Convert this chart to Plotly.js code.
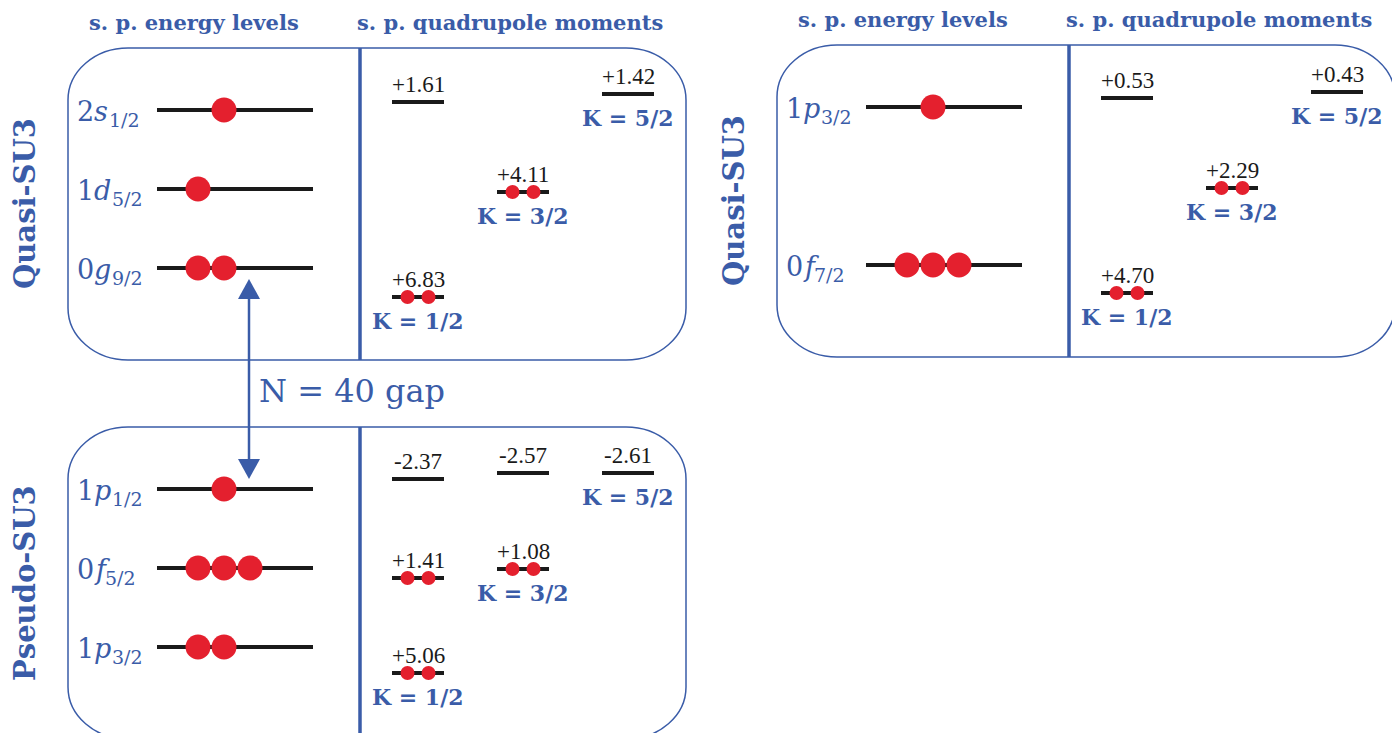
<!DOCTYPE html>
<html><head><meta charset="utf-8">
<script src="https://cdn.plot.ly/plotly-3.0.1.min.js"></script>
<style>html,body{margin:0;padding:0;background:#fff;overflow:hidden}#chart{width:1392px;height:733px}</style>
</head><body><div id="chart"></div>
<script>
// ================= DATA =================
const panelNames = ['Quasi-SU3', 'Pseudo-SU3', 'Quasi-SU3'];
const headerLabels = ['s. p. energy levels', 's. p. quadrupole moments'];
const kLabels = ['1/2', '3/2', '5/2'];
const gapLabel = 'N = 40 gap';

// Panel A : Quasi-SU3 (sdg)
const levelsA = ['2s_{1/2}', '1d_{5/2}', '0g_{9/2}'];
const occA = [1, 1, 2];
const qValuesA = [1.61, 1.42, 4.11, 6.83];
const qKA = ['1/2', '5/2', '3/2', '1/2'];
const qOccA = [0, 0, 2, 2];

// Panel B : Pseudo-SU3 (fp)
const levelsB = ['1p_{1/2}', '0f_{5/2}', '1p_{3/2}'];
const occB = [1, 3, 2];
const qValuesB = [-2.37, -2.57, -2.61, 1.41, 1.08, 5.06];
const qKB = ['1/2', '3/2', '5/2', '1/2', '3/2', '1/2'];
const qOccB = [0, 0, 0, 2, 2, 2];

// Panel C : Quasi-SU3 (pf)
const levelsC = ['1p_{3/2}', '0f_{7/2}'];
const occC = [1, 3];
const qValuesC = [0.53, 0.43, 2.29, 4.70];
const qKC = ['1/2', '5/2', '3/2', '1/2'];
const qOccC = [0, 0, 2, 2];

// ================= LAYOUT GEOMETRY (positions / styles) =================
const W = 1392, H = 733;
const BLUE = '#3a5ca8', RED = '#e4202e', BLACK = '#1a1a1a';
const boxX0 = [68, 68, 777], boxY0 = [48, 427, 45];
const BOX_W = 618, BOX_H = 312, RX = 60, RY = 52;
const DIV_DX = 292;
const LEV_X0 = 89, LEV_X1 = 245, LEV_DY0 = 62, LEV_STEP = 79;
const SLOT_X0 = 130, SLOT_STEP = 26;
const LABEL_DX = 10, LAB_SIZE = 27, SUB_SIZE = 19, SUB_DY = 10;
const Q_COL_DX = [350, 455, 560], Q_HALF = 26, Q_DOT = 10.5;
const levelRow = [[0, 1, 2], [0, 1, 2], [0, 2]];
const firstSlot = [[1, 0, 0], [1, 0, 0], [1, 0]];
const qDy = [[54, 46, 144, 249], [52, 46, 46, 151, 142, 246], [53, 47, 143, 248]];
const headerDx = [126, 442], HEADER_DY = -26;
const showHeader = [true, false, true];
const ARROW_DX = 181;
const SERIF = 'DejaVu Serif';

const panels = [
  {levels: levelsA, occ: occA, q: qValuesA, k: qKA, qocc: qOccA},
  {levels: levelsB, occ: occB, q: qValuesB, k: qKB, qocc: qOccB},
  {levels: levelsC, occ: occC, q: qValuesC, k: qKC, qocc: qOccC}
];

const ctx = document.createElement('canvas').getContext('2d');
function textW(t, size, style) {
  ctx.font = (style || 'normal') + ' ' + size + 'px "' + SERIF + '"';
  return ctx.measureText(t).width;
}
function fmtQ(v) { return (v >= 0 ? '+' : '-') + Math.abs(v).toFixed(2); }
function parseLevel(s) {
  const m = s.match(/^(\d)([a-z])_\{(.+)\}$/);
  return {n: m[1], l: m[2], j: m[3]};
}
function roundBox(x0, y0, x1, y1, rx, ry) {
  const k = 0.5523;
  return `M ${x0 + rx},${y0} L ${x1 - rx},${y0} C ${x1 - rx + k * rx},${y0} ${x1},${y0 + ry - k * ry} ${x1},${y0 + ry}` +
    ` L ${x1},${y1 - ry} C ${x1},${y1 - ry + k * ry} ${x1 - rx + k * rx},${y1} ${x1 - rx},${y1}` +
    ` L ${x0 + rx},${y1} C ${x0 + rx - k * rx},${y1} ${x0},${y1 - ry + k * ry} ${x0},${y1 - ry}` +
    ` L ${x0},${y0 + ry} C ${x0},${y0 + ry - k * ry} ${x0 + rx - k * rx},${y0} ${x0 + rx},${y0} Z`;
}

const shapes = [], annotations = [];
const levX = [], levY = [], qlX = [], qlY = [];
const eDotX = [], eDotY = [], qDotX = [], qDotY = [];
const levelYs = [];

panels.forEach((p, i) => {
  const x0 = boxX0[i], y0 = boxY0[i];
  shapes.push({type: 'path', xref: 'x', yref: 'y', path: roundBox(x0, y0, x0 + BOX_W, y0 + BOX_H, RX, RY),
    line: {color: BLUE, width: 1.5}, fillcolor: 'rgba(0,0,0,0)', layer: 'below'});
  shapes.push({type: 'line', xref: 'x', yref: 'y', x0: x0 + DIV_DX, x1: x0 + DIV_DX, y0: y0, y1: y0 + BOX_H,
    line: {color: BLUE, width: 3.5}, layer: 'below'});
  if (showHeader[i]) {
    headerLabels.forEach((h, j) => annotations.push({x: x0 + headerDx[j], y: y0 + HEADER_DY, text: h,
      showarrow: false, xanchor: 'center', yanchor: 'middle',
      font: {family: SERIF, size: 21, color: BLUE, weight: 'bold'}}));
  }
  annotations.push({x: x0 - 43, y: y0 + BOX_H / 2, text: panelNames[i], textangle: -90,
    showarrow: false, xanchor: 'center', yanchor: 'middle',
    font: {family: SERIF, size: 29, color: BLUE, weight: 'bold'}});
  // energy levels
  const ys = [];
  p.levels.forEach((lab, r) => {
    const y = y0 + LEV_DY0 + LEV_STEP * levelRow[i][r];
    ys.push(y);
    levX.push(x0 + LEV_X0, x0 + LEV_X1, null); levY.push(y, y, null);
    for (let d = 0; d < p.occ[r]; d++) {
      eDotX.push(x0 + SLOT_X0 + SLOT_STEP * (firstSlot[i][r] + d)); eDotY.push(y);
    }
    const L = parseLevel(lab);
    const xa = x0 + LABEL_DX;
    const xb = xa + textW(L.n, LAB_SIZE);
    const xc = xb + textW(L.l, LAB_SIZE, 'italic') + 1;
    annotations.push({x: xa, y: y + 1, text: L.n, showarrow: false, xanchor: 'left', yanchor: 'middle',
      xshift: -3, font: {family: SERIF, size: LAB_SIZE, color: BLUE}});
    annotations.push({x: xb, y: y + 1, text: L.l, showarrow: false, xanchor: 'left', yanchor: 'middle',
      xshift: -3, font: {family: SERIF, size: LAB_SIZE, color: BLUE, style: 'italic'}});
    annotations.push({x: xc, y: y + SUB_DY, text: L.j, showarrow: false, xanchor: 'left', yanchor: 'middle',
      xshift: -3, font: {family: SERIF, size: SUB_SIZE, color: BLUE}});
  });
  levelYs.push(ys);
  // quadrupole moments
  const lowest = {};
  p.q.forEach((v, n) => {
    const col = kLabels.indexOf(p.k[n]);
    const cx = x0 + Q_COL_DX[col], y = y0 + qDy[i][n];
    qlX.push(cx - Q_HALF, cx + Q_HALF, null); qlY.push(y, y, null);
    if (p.qocc[n] === 2) { qDotX.push(cx - Q_DOT, cx + Q_DOT); qDotY.push(y, y); }
    annotations.push({x: cx, y: y - 18, text: fmtQ(v), showarrow: false, xanchor: 'center', yanchor: 'middle',
      font: {family: 'Liberation Serif', size: 23, color: BLACK}});
    if (!(col in lowest) || y > lowest[col]) lowest[col] = y;
  });
  Object.keys(lowest).forEach(col => {
    annotations.push({x: x0 + Q_COL_DX[col], y: lowest[col] + 24, text: 'K = ' + kLabels[col],
      showarrow: false, xanchor: 'center', yanchor: 'middle',
      font: {family: SERIF, size: 22, color: BLUE, weight: 'bold'}});
  });
});

// N = 40 gap arrow between last level of panel A and first level of panel B
const ax = boxX0[0] + ARROW_DX;
const yTop = levelYs[0][levelYs[0].length - 1] + 11;
const yBot = levelYs[1][0] - 10;
const AH = 20, AW = 11;
shapes.push({type: 'line', xref: 'x', yref: 'y', x0: ax, x1: ax, y0: yTop + AH - 2, y1: yBot - AH + 2,
  line: {color: BLUE, width: 2.5}});
shapes.push({type: 'path', xref: 'x', yref: 'y', path: `M ${ax},${yTop} L ${ax - AW},${yTop + AH} L ${ax + AW},${yTop + AH} Z`,
  fillcolor: BLUE, line: {width: 0}});
shapes.push({type: 'path', xref: 'x', yref: 'y', path: `M ${ax},${yBot} L ${ax - AW},${yBot - AH} L ${ax + AW},${yBot - AH} Z`,
  fillcolor: BLUE, line: {width: 0}});
annotations.push({x: ax + 8, y: (yTop + yBot) / 2 + 12, text: gapLabel, showarrow: false, xanchor: 'left', yanchor: 'middle',
  font: {family: SERIF, size: 32, color: BLUE}});

const traces = [
  {x: levX, y: levY, mode: 'lines', line: {color: BLACK, width: 4}, hoverinfo: 'skip'},
  {x: qlX, y: qlY, mode: 'lines', line: {color: BLACK, width: 4}, hoverinfo: 'skip'},
  {x: eDotX, y: eDotY, mode: 'markers', marker: {color: RED, size: 25, line: {width: 0}}, hoverinfo: 'skip'},
  {x: qDotX, y: qDotY, mode: 'markers', marker: {color: RED, size: 14, line: {width: 0}}, hoverinfo: 'skip'}
];

const layout = {
  width: W, height: H, margin: {l: 0, r: 0, t: 0, b: 0}, showlegend: false,
  paper_bgcolor: '#fff', plot_bgcolor: '#fff',
  xaxis: {range: [0, W], visible: false, fixedrange: true},
  yaxis: {range: [H, 0], visible: false, fixedrange: true},
  shapes: shapes, annotations: annotations
};
Plotly.newPlot('chart', traces, layout, {displayModeBar: false, staticPlot: true});
</script></body></html>
